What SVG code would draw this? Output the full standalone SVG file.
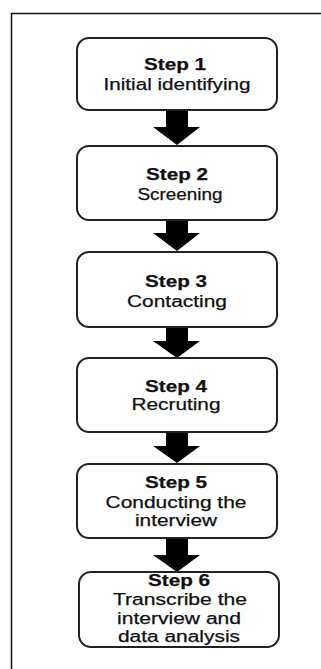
<svg xmlns="http://www.w3.org/2000/svg" width="321" height="669" viewBox="0 0 321 669">
<style>
.box{fill:#fff;stroke:#222;stroke-width:2}
.t{font-family:"Liberation Sans",Arial,sans-serif;font-size:16px;fill:#111;text-anchor:middle;stroke:#111;stroke-width:0.25}
.b{font-weight:bold}
.arr{fill:#000}
</style>
<rect x="0" y="0" width="321" height="669" fill="#fff"/>
<path d="M11.5 669 V13.5 H321" fill="none" stroke="#111" stroke-width="1.5"/>
<g id="connectors">
<path class="arr" d="M166 111 H188 V127 H200 L177 145 L153 127 H166 Z"/>
<path class="arr" d="M166 220 H188 V233 H200 L177 251 L153 233 H166 Z"/>
<path class="arr" d="M166 327 H188 V341 H200 L177 358 L153 341 H166 Z"/>
<path class="arr" d="M166 432 H188 V446 H200 L177 463 L153 446 H166 Z"/>
<path class="arr" d="M166 538 H188 V555 H200 L177 572 L153 555 H166 Z"/>
</g>
<g id="step1">
<rect class="box" x="77" y="38" width="200" height="72" rx="12"/>
<text class="t b" x="175" y="70" textLength="62" lengthAdjust="spacingAndGlyphs">Step 1</text>
<text class="t" x="177" y="90" textLength="147" lengthAdjust="spacingAndGlyphs">Initial identifying</text>
</g>
<g id="step2">
<rect class="box" x="77" y="146" width="200" height="74" rx="12"/>
<text class="t b" x="177" y="180" textLength="62" lengthAdjust="spacingAndGlyphs">Step 2</text>
<text class="t" x="180" y="200" textLength="85" lengthAdjust="spacingAndGlyphs">Screening</text>
</g>
<g id="step3">
<rect class="box" x="77" y="252" width="200" height="75" rx="12"/>
<text class="t b" x="176" y="287" textLength="62" lengthAdjust="spacingAndGlyphs">Step 3</text>
<text class="t" x="177" y="307" textLength="100" lengthAdjust="spacingAndGlyphs">Contacting</text>
</g>
<g id="step4">
<rect class="box" x="77" y="358" width="200" height="74" rx="12"/>
<text class="t b" x="176" y="392" textLength="62" lengthAdjust="spacingAndGlyphs">Step 4</text>
<text class="t" x="176" y="410" textLength="89" lengthAdjust="spacingAndGlyphs">Recruting</text>
</g>
<g id="step5">
<rect class="box" x="77" y="464" width="200" height="74" rx="12"/>
<text class="t b" x="176" y="488" textLength="62" lengthAdjust="spacingAndGlyphs">Step 5</text>
<text class="t" x="176" y="508" textLength="141" lengthAdjust="spacingAndGlyphs">Conducting the</text>
<text class="t" x="176" y="526" textLength="82" lengthAdjust="spacingAndGlyphs">interview</text>
</g>
<g id="step6">
<rect class="box" x="79" y="572" width="200" height="75" rx="12"/>
<text class="t b" x="179" y="586" textLength="62" lengthAdjust="spacingAndGlyphs">Step 6</text>
<text class="t" x="180" y="605" textLength="134" lengthAdjust="spacingAndGlyphs">Transcribe the</text>
<text class="t" x="179" y="624" textLength="124" lengthAdjust="spacingAndGlyphs">interview and</text>
<text class="t" x="179" y="642" textLength="122" lengthAdjust="spacingAndGlyphs">data analysis</text>
</g>
</svg>
